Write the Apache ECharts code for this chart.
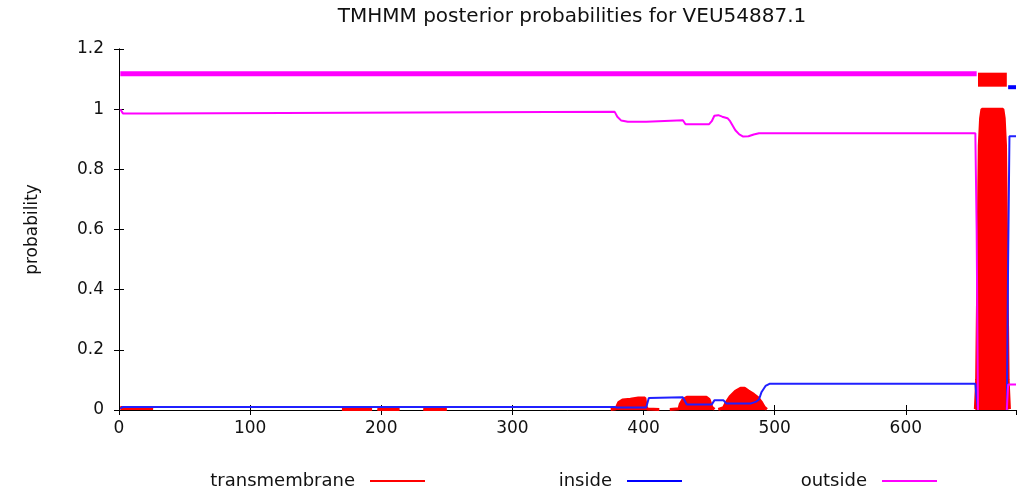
<!DOCTYPE html>
<html>
<head>
<meta charset="utf-8">
<script src="https://cdn.jsdelivr.net/npm/echarts@6/dist/echarts.min.js"></script>
<style>
html,body{margin:0;padding:0;background:#fff;}
#chart{width:1017px;height:496px;}
</style>
</head>
<body>
<div id="chart"></div>
<script>
// ---- data (residue position, probability) ----
const seqLength = 684;
const xTicks = [0, 100, 200, 300, 400, 500, 600];
const yTicks = [0, 0.2, 0.4, 0.6, 0.8, 1, 1.2];

// transmembrane probability (drawn as filled impulses); null = zero gap
const transmembrane = [
  [1,0.008],[26,0.008],[27,null],
  [170,0.002],[193,0.002],[194,null],
  [197,0.002],[214,0.002],[215,null],
  [232,0.002],[250,0.002],[251,null],
  [375,0.002],[379,0.004],[380,0.015],[381,0.025],[384,0.033],[390,0.036],[396,0.04],[401,0.04],[402,0.01],[403,0.003],[412,0.002],[413,null],
  [420,0.002],[427,0.004],[428,0.02],[430,0.035],[433,0.042],[448,0.042],[450,0.035],[452,0.01],[454,0.002],[455,null],
  [457,0.002],[461,0.008],[463,0.025],[466,0.045],[470,0.062],[474,0.072],[477,0.072],[480,0.063],[484,0.052],[487,0.042],[490,0.025],[492,0.01],[494,0.002],[495,null],
  [653,0.003],[654,0.1],[655,0.5],[656,0.88],[657,0.97],[658,1.0],[674,1.0],[675,0.97],[676,0.88],[677,0.5],[678,0.1],[679,0.003]
];

// inside probability (null inside the TM helix where it is ~0)
const inside = [
  [1,0.005],[3,0.01],[378,0.01],[380,0.008],[402,0.008],[404,0.04],[430,0.042],[433,0.018],[452,0.018],
  [454,0.032],[461,0.032],[463,0.022],[482,0.022],[486,0.028],[488,0.035],[490,0.06],[493,0.08],[496,0.087],
  [653,0.087],[654,0.04],[655,0.0],[656,null],[677,0.0],[678,0.5],[679,0.91],[684,0.91]
];

// outside probability
const outside = [
  [1,1.0],[3,0.986],[24,0.986],[25,0.991],[378,0.991],[380,0.975],[383,0.962],[388,0.958],[402,0.958],[403,0.963],
  [430,0.963],[432,0.95],[450,0.95],[452,0.96],[454,0.978],[457,0.98],[460,0.975],[464,0.97],[466,0.96],
  [468,0.945],[470,0.93],[473,0.916],[476,0.909],[480,0.91],[484,0.916],[488,0.92],[653,0.92],[654,0.6],
  [655,0.0],[656,null],[677,0.0],[678,0.085],[684,0.085]
];

// predicted topology bars drawn above the curves
const topoOutside = [[1,1.118],[654,1.118]];
const topoTM = [[655,1.098],[677,1.098]];
const topoInside = [[678,1.073],[684,1.073]];

const FONT = 'DejaVu Sans';
const chart = echarts.init(document.getElementById('chart'), null, {renderer:'canvas'});

function legendFor(name, right){
  return {
    data:[name], right:right, top:472, orient:'horizontal', padding:0,
    icon:'rect', itemWidth:55, itemHeight:2, align:'right',
    textStyle:{fontFamily:FONT, fontSize:18, color:'#111', padding:[0,10,0,0]},
    selectedMode:false
  };
}

chart.setOption({
  animation:false,
  backgroundColor:'#ffffff',
  title:{
    text:'TMHMM posterior probabilities for VEU54887.1',
    left:567, textAlign:'center', top:2,
    textStyle:{fontFamily:FONT, fontSize:20, fontWeight:'normal', color:'#111'}
  },
  legend:[
    legendFor('transmembrane', 592),
    legendFor('inside', 335),
    legendFor('outside', 80)
  ],
  grid:{left:119, right:1, top:49, bottom:86, containLabel:false},
  xAxis:[{
    type:'value', min:0, max:seqLength, interval:100,
    axisLine:{show:true, onZero:false, lineStyle:{color:'#000', width:1}},
    axisTick:{show:true, inside:true, length:5, lineStyle:{color:'#000'}},
    axisLabel:{show:true, margin:10, fontFamily:FONT, fontSize:17, color:'#111', showMaxLabel:false,
      formatter:function(v){ return xTicks.indexOf(v) >= 0 ? String(v) : ''; }},
    splitLine:{show:false}
  },{
    type:'value', position:'top', min:0, max:seqLength, interval:100,
    axisLine:{show:true, lineStyle:{color:'#000', width:1}},
    axisTick:{show:true, inside:true, length:5, lineStyle:{color:'#000'}},
    axisLabel:{show:false}, splitLine:{show:false}
  }],
  yAxis:[{
    type:'value', min:0, max:1.2, interval:0.2,
    name:'probability', nameLocation:'middle', nameGap:78, nameRotate:90,
    nameTextStyle:{fontFamily:FONT, fontSize:17, color:'#111'},
    axisLine:{show:true, onZero:false, lineStyle:{color:'#000', width:1}},
    axisTick:{show:true, inside:true, length:5, lineStyle:{color:'#000'}},
    axisLabel:{show:true, margin:15, fontFamily:FONT, fontSize:17, color:'#111',
      formatter:function(v){ const r = Math.round(v*10)/10; return yTicks.indexOf(r) >= 0 ? String(r) : ''; }},
    splitLine:{show:false}
  },{
    type:'value', position:'right', min:0, max:1.2, interval:0.2,
    axisLine:{show:true, lineStyle:{color:'#000', width:1}},
    axisTick:{show:true, inside:true, length:5, lineStyle:{color:'#000'}},
    axisLabel:{show:false}, splitLine:{show:false}
  }],
  series:[
    {name:'transmembrane', type:'line', data:transmembrane, showSymbol:false, connectNulls:false,
      color:'#ff0000', lineStyle:{color:'#ff0000', width:3}, areaStyle:{color:'#ff0000', opacity:1}, z:2},
    {name:'inside', type:'line', data:inside, showSymbol:false, connectNulls:false, color:'#0000ff',
      lineStyle:{color:'#2020ff', width:2}, z:3},
    {name:'outside', type:'line', data:outside, showSymbol:false, connectNulls:false, color:'#ff00ff',
      lineStyle:{color:'#ff00ff', width:2}, z:4},
    {name:'topoOutside', type:'line', data:topoOutside, showSymbol:false,
      lineStyle:{color:'#ff00ff', width:5}, z:4},
    {name:'topoTM', type:'line', data:topoTM, showSymbol:false,
      lineStyle:{color:'#ff0000', width:14}, z:4},
    {name:'topoInside', type:'line', data:topoInside, showSymbol:false,
      lineStyle:{color:'#0000ff', width:4}, z:4}
  ]
});
</script>
</body>
</html>
